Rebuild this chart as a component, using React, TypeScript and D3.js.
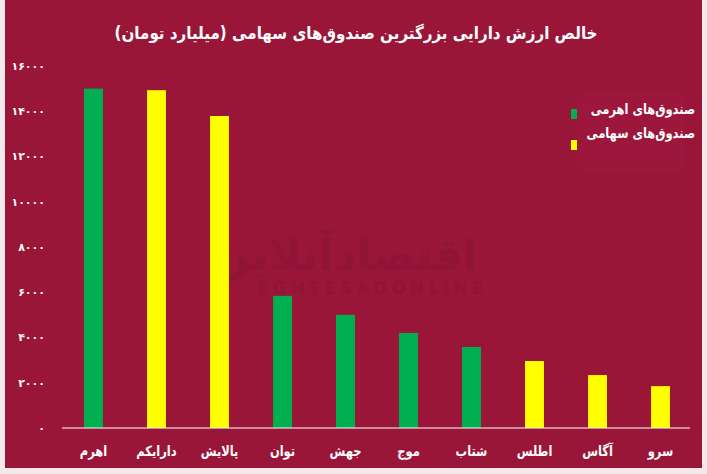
import React from "react";
import * as d3 from "d3";

const categories = ["اهرم", "دارایکم", "پالایش", "توان", "جهش", "موج", "شتاب", "اطلس", "آگاس", "سرو"];
const values = [15000, 14930, 13790, 5840, 5000, 4200, 3580, 2960, 2340, 1850];
const fundTypes = ["lev", "eq", "eq", "lev", "lev", "lev", "lev", "eq", "eq", "eq"];
const yTicks = [0, 2000, 4000, 6000, 8000, 10000, 12000, 14000, 16000];
const legendLabels = ["صندوق‌های اهرمی", "صندوق‌های سهامی"];
const title = "خالص ارزش دارایی بزرگترین صندوق‌های سهامی (میلیارد تومان)";

const W = 707;
const H = 474;
const BG = "#9a1639";
const GREEN = "#00b050";
const YELLOW = "#ffff00";
const FONT = "'DejaVu Sans', 'Noto Sans', sans-serif";

const toPersian = (n: number) =>
  String(n).replace(/[0-9]/g, (d) => "۰۱۲۳۴۵۶۷۸۹"[+d]);

function RtlText(props: { x: number; y: number; sx: number; size: number; anchor: "start" | "middle"; children: string; fill?: string }) {
  const { x, y, sx, size, anchor, children, fill } = props;
  return (
    <g transform={`translate(${x},${y}) scale(${sx},1)`}>
      <text x={0} y={0} direction="rtl" textAnchor={anchor} fontSize={size} fontWeight="bold" fill={fill || "#ffffff"}>
        {children}
      </text>
    </g>
  );
}

export default function App() {
  const x = d3.scaleBand<string>().domain(categories).range([62, 692]).paddingInner(0.7).paddingOuter(0.35);
  const y = d3.scaleLinear().domain([0, 16000]).range([428, 66]);
  const color = (t: string) => (t === "lev" ? GREEN : YELLOW);

  return (
    <svg width={W} height={H} style={{ position: "absolute", left: 0, top: 0 }} fontFamily={FONT}>
      <rect x={0} y={0} width={W} height={H} fill="#f4e8eb" />
      <rect x={5} y={0} width={697} height={468} fill={BG} />
      {/* watermark */}
      <text x={345} y={270} textAnchor="middle" fontSize={44} fontWeight="bold" fill="#8f1435" direction="rtl">
        اقتصادآنلاین
      </text>
      <text x={372} y={294} textAnchor="middle" fontSize={17} fontWeight="bold" fill="#8f1435" letterSpacing={4}>
        EGHTESADONLINE
      </text>
      <RtlText x={356} y={39} sx={0.89} size={17} anchor="middle">
        {title}
      </RtlText>
      {/* y axis labels */}
      {yTicks.map((t) => (
        <text key={t} x={45} y={y(t)} dy="0.35em" textAnchor="end" fontSize={11} fontWeight="bold" fill="#ffffff">
          {toPersian(t)}
        </text>
      ))}
      {/* bars */}
      {categories.map((c, i) => (
        <rect key={c} x={x(c)} y={y(values[i])} width={x.bandwidth()} height={y(0) - y(values[i])} fill={color(fundTypes[i])} />
      ))}
      <line x1={62} x2={690} y1={y(0)} y2={y(0)} stroke="#ffffff" strokeWidth={1} />
      {categories.map((c) => (
        <RtlText key={c} x={(x(c) as number) + x.bandwidth() / 2} y={456} sx={0.82} size={14} anchor="middle">
          {c}
        </RtlText>
      ))}
      {/* legend */}
      <rect x={577} y={94} width={108} height={76} fill="#a0183f" opacity={0.6} />
      <rect x={571} y={109} width={6} height={10} fill={GREEN} />
      <rect x={571} y={140} width={6} height={10} fill={YELLOW} />
      {legendLabels.map((l, i) => (
        <RtlText key={l} x={695} y={114 + i * 24} sx={0.82} size={14} anchor="start">
          {l}
        </RtlText>
      ))}
    </svg>
  );
}
